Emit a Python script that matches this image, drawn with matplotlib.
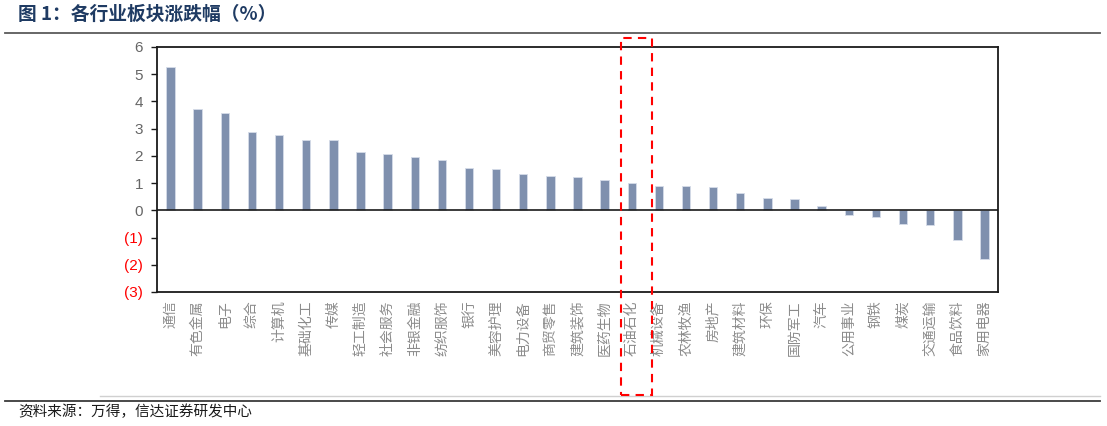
import matplotlib
matplotlib.use('Agg')
import matplotlib.pyplot as plt
from matplotlib.patches import Rectangle
from matplotlib.lines import Line2D
import matplotlib.transforms as mtransforms

plt.rcParams['font.family'] = ['Noto Sans CJK SC', 'DejaVu Sans']
plt.rcParams['axes.unicode_minus'] = False

# data
industries = ['通信', '有色金属', '电子', '综合', '计算机', '基础化工', '传媒', '轻工制造',
              '社会服务', '非银金融', '纺织服饰', '银行', '美容护理', '电力设备', '商贸零售',
              '建筑装饰', '医药生物', '石油石化', '机械设备', '农林牧渔', '房地产', '建筑材料',
              '环保', '国防军工', '汽车', '公用事业', '钢铁', '煤炭', '交通运输', '食品饮料',
              '家用电器']
changes = [5.27, 3.74, 3.59, 2.86, 2.77, 2.57, 2.57, 2.14, 2.06, 1.97, 1.86, 1.56, 1.53,
           1.35, 1.27, 1.21, 1.10, 0.99, 0.91, 0.89, 0.85, 0.63, 0.44, 0.40, 0.16,
           -0.16, -0.23, -0.51, -0.55, -1.08, -1.79]
yticks = [-3, -2, -1, 0, 1, 2, 3, 4, 5, 6]
ytick_labels = ['(3)', '(2)', '(1)', '0', '1', '2', '3', '4', '5', '6']
highlight = '石油石化'

fig = plt.figure(figsize=(11.07, 4.26), dpi=100)
ax = fig.add_axes([157 / 1107, 1 - 292 / 426, 841 / 1107, 245 / 426])

x = list(range(len(industries)))
ax.bar(x, changes, width=0.31, color='#7F90AE', edgecolor='#D5DCE8', linewidth=0.6, zorder=2)
ax.axhline(0, color='#1a1a1a', linewidth=1.2, zorder=3)

ax.set_xlim(-0.5, len(industries) - 0.5)
ax.set_ylim(-3, 6)
ax.set_yticks(yticks)
ax.set_yticklabels(ytick_labels, fontsize=11, family=['Liberation Sans', 'DejaVu Sans'])
for lab, v in zip(ax.get_yticklabels(), yticks):
    lab.set_color('#FF0000' if v < 0 else '#666666')
ax.tick_params(axis='y', direction='out', length=4, width=1, color='#1a1a1a', pad=6)

ax.set_xticks(x)
ax.set_xticklabels(industries, rotation=90, fontsize=10, color='#8c8c8c')
ax.tick_params(axis='x', length=0, pad=6)

for s in ax.spines.values():
    s.set_color('#1a1a1a')
    s.set_linewidth(1.3)

# dashed red box around the highlighted industry
i = industries.index(highlight)
trans = mtransforms.blended_transform_factory(ax.transData, fig.transFigure)
box = Rectangle((i - 0.4, 1 - 395 / 426), 1.15, (395 - 38) / 426, transform=trans,
                fill=False, edgecolor='#FF0000', linestyle=(0, (4, 3)), linewidth=1.5,
                clip_on=False, zorder=5)
fig.patches.append(box)

# title, rules and source
fig.text(18 / 1107, 1 - 14 / 426, '图 1：各行业板块涨跌幅（%）', fontsize=13.5, fontweight='bold',
         color='#1F3B63', va='center', ha='left')
fig.add_artist(Line2D([5 / 1107, 1100 / 1107], [1 - 33 / 426, 1 - 33 / 426],
                      color='#5a5a5a', linewidth=1.3))
fig.add_artist(Line2D([100 / 1107, 1100 / 1107], [1 - 396 / 426, 1 - 396 / 426],
                      color='#d0d0d0', linewidth=1.0))
fig.add_artist(Line2D([5 / 1107, 1100 / 1107], [1 - 401 / 426, 1 - 401 / 426],
                      color='#3a3a3a', linewidth=1.3))
fig.text(18 / 1107, 1 - 412 / 426, '资料来源：万得，信达证券研发中心', fontsize=10.5,
         style='italic', color='#1a1a1a', va='center', ha='left')

fig.savefig('out.png', dpi=100)
